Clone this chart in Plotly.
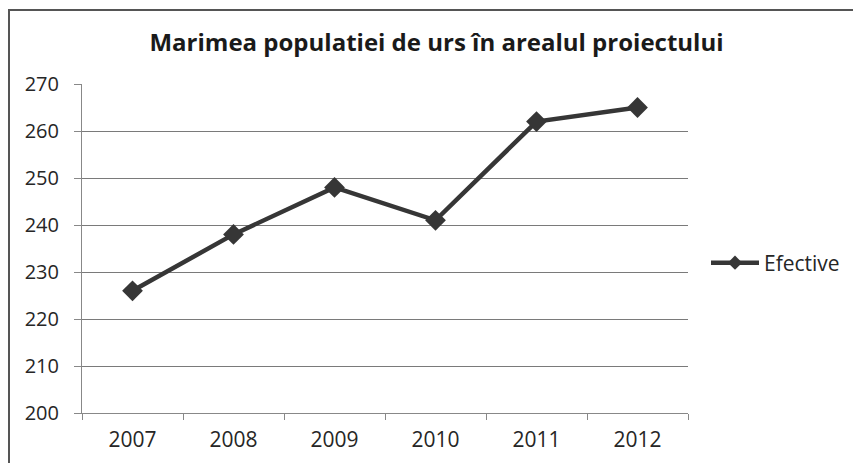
import plotly.graph_objects as go

years = ["2007", "2008", "2009", "2010", "2011", "2012"]
efective = [226, 238, 248, 241, 262, 265]
y_ticks = [200, 210, 220, 230, 240, 250, 260, 270]

W, H = 861, 463
L, R, T, B = 74, 181, 76, 58
pw, ph = W - L - R, H - T - B
plot_bottom = H - B
COL = "#363636"

fig = go.Figure()
fig.add_trace(go.Scatter(
    x=years, y=efective, name="Efective", mode="lines+markers",
    line=dict(color=COL, width=4.5),
    marker=dict(symbol="diamond", size=16, color=COL),
    showlegend=False,
))
# legend entry (smaller diamond, like the original legend key)
fig.add_trace(go.Scatter(
    x=[None], y=[None], name="Efective", mode="lines+markers",
    line=dict(color=COL, width=4.5),
    marker=dict(symbol="diamond", size=11, color=COL),
    showlegend=True,
))

font = "'Open Sans', Lato, sans-serif"
fig.update_layout(
    width=W, height=H,
    margin=dict(l=L, r=R, t=T, b=B),
    paper_bgcolor="white", plot_bgcolor="white",
    font=dict(family=font, color="#262626", size=18),
    title=dict(text="<b>Marimea populatiei de urs în arealul proiectului</b>",
               x=428.5 / W, xanchor="center", y=1 - 35 / H, yanchor="middle",
               font=dict(size=24, family=font, color="#1a1a1a")),
    showlegend=True,
    legend=dict(x=1 + 18 / pw, xanchor="left", y=(plot_bottom - 255) / ph, yanchor="middle",
                font=dict(size=21, family=font, color="#262626"),
                bgcolor="rgba(0,0,0,0)", itemwidth=48),
    xaxis=dict(type="category", tickson="boundaries", ticks="outside", ticklen=6,
               tickcolor="#888", showline=True, linecolor="#888", linewidth=1,
               showgrid=False, range=[-0.5, 5.5], tickfont=dict(size=21),
               ticklabelstandoff=8),
    yaxis=dict(range=[200, 270], tickvals=y_ticks, ticks="outside", ticklen=7,
               tickcolor="#888", showline=True, linecolor="#888", linewidth=1,
               showgrid=True, gridcolor="#7a7a7a", gridwidth=1, zeroline=False,
               tickfont=dict(size=20), ticklabelstandoff=11),
)

# outer chart border (extends beyond the captured area on right and bottom)
fig.add_shape(type="rect", xref="paper", yref="paper",
              x0=(1 - L) / pw, x1=(W + 20 - L) / pw,
              y0=(plot_bottom - (H + 20)) / ph, y1=(plot_bottom - 2) / ph,
              line=dict(color="#555", width=2), layer="below")

fig.write_html("out.html")
